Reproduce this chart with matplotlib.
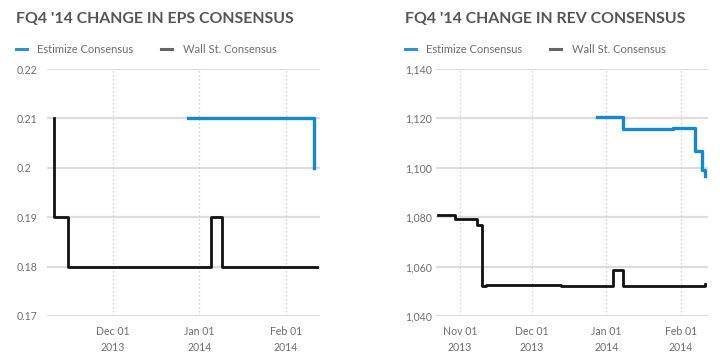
import numpy as np
import matplotlib
matplotlib.use("Agg")
import matplotlib.pyplot as plt
import matplotlib.dates as mdates
from matplotlib.lines import Line2D
from matplotlib.ticker import FixedLocator

plt.rcParams['font.family'] = ['Lato', 'DejaVu Sans']

# ---------------- data ----------------
eps_est_dates = np.array(['2013-12-28', '2014-02-11', '2014-02-11'], dtype='datetime64[D]')
eps_est_vals = [0.21, 0.20, 0.20]
eps_ws_dates = np.array(['2013-11-10', '2013-11-10', '2013-11-15', '2014-01-05',
                         '2014-01-09', '2014-02-12'], dtype='datetime64[D]')
eps_ws_vals = [0.21, 0.19, 0.18, 0.19, 0.18, 0.18]

rev_est_dates = np.array(['2013-12-28', '2014-01-08', '2014-01-29', '2014-02-07',
                          '2014-02-10', '2014-02-10', '2014-02-11', '2014-02-11'],
                         dtype='datetime64[h]')
rev_est_vals = [1120.6, 1115.7, 1116.0, 1106.8, 1102.5, 1099.0, 1096.7, 1096.7]
rev_ws_dates = np.array(['2013-10-23', '2013-10-30', '2013-11-08', '2013-11-10',
                         '2013-11-12', '2013-12-13', '2014-01-04', '2014-01-08',
                         '2014-02-11', '2014-02-11'], dtype='datetime64[D]')
rev_ws_vals = [1080.8, 1079.3, 1077.0, 1052.1, 1052.5, 1052.2, 1058.6, 1052.2, 1052.2, 1053.0]

eps_yticks = [0.17, 0.18, 0.19, 0.20, 0.21, 0.22]
eps_ylabels = ['0.17', '0.18', '0.19', '0.2', '0.21', '0.22']
rev_yticks = [1040, 1060, 1080, 1100, 1120, 1140]
rev_ylabels = ['1,040', '1,060', '1,080', '1,100', '1,120', '1,140']

eps_xticks = np.array(['2013-12-01', '2014-01-01', '2014-02-01'], dtype='datetime64[D]')
eps_xlabels = ['Dec 01\n2013', 'Jan 01\n2014', 'Feb 01\n2014']
rev_xticks = np.array(['2013-11-01', '2013-12-01', '2014-01-01', '2014-02-01'], dtype='datetime64[D]')
rev_xlabels = ['Nov 01\n2013', 'Dec 01\n2013', 'Jan 01\n2014', 'Feb 01\n2014']

titles = ["FQ4 '14 CHANGE IN EPS CONSENSUS", "FQ4 '14 CHANGE IN REV CONSENSUS"]
legend_labels = ['Estimize Consensus', 'Wall St. Consensus']

BLUE = '#1589cf'
BLACK = '#111111'
TITLE_C = '#555555'
TXT_C = '#6e6e6e'
GRID_C = '#dddddd'

W, H = 720, 359
fig = plt.figure(figsize=(W / 100, H / 100), dpi=100)


def fx(px):
    return px / W


def fy(py):
    return 1 - py / H


def setup(ax, xlim, ylim, yticks, ylabels, xticks, xlabels, lab_pad_px):
    ax.set_xlim(*xlim)
    ax.set_ylim(*ylim)
    for s in ax.spines.values():
        s.set_visible(False)
    ax.yaxis.set_major_locator(FixedLocator(yticks))
    ax.set_yticklabels(ylabels)
    ax.set_xticks(mdates.date2num(xticks))
    ax.set_xticklabels(xlabels, linespacing=1.5)
    ax.tick_params(axis='both', length=0, labelsize=7.6, colors=TXT_C)
    ax.tick_params(axis='y', pad=lab_pad_px * 72 / 100)
    ax.tick_params(axis='x', pad=7.5)
    for lab in ax.get_yticklabels():
        lab.set_ha('left')
    for y in yticks:
        ax.axhline(y, color=GRID_C, lw=1.6, zorder=0)
    for x in xticks:
        ax.axvline(mdates.date2num(x), color='#c8c8c8', lw=0.9, ls=(0, (1, 2.2)), zorder=0)


# EPS chart
ax1 = fig.add_axes([fx(47), fy(316), fx(319.5) - fx(47), fy(69) - fy(316)])
d0 = mdates.date2num(np.datetime64('2013-12-01'))
d1 = mdates.date2num(np.datetime64('2014-02-01'))
setup(ax1, (d0 - 23.4, d1 + 11.9), (0.17, 0.22), eps_yticks, eps_ylabels,
      eps_xticks, eps_xlabels, 30)
ax1.plot(mdates.date2num(eps_ws_dates), eps_ws_vals, drawstyle='steps-post',
         color=BLACK, lw=2.0, zorder=3)
ax1.plot(mdates.date2num(eps_est_dates), eps_est_vals, drawstyle='steps-post',
         color=BLUE, lw=2.4, zorder=4)

# REV chart
ax2 = fig.add_axes([fx(436), fy(316), fx(708) - fx(436), fy(69) - fy(316)])
r0 = mdates.date2num(np.datetime64('2013-11-01'))
r1 = mdates.date2num(np.datetime64('2014-02-01'))
setup(ax2, (r0 - 10.0, r1 + 11.4), (1040, 1140), rev_yticks, rev_ylabels,
      rev_xticks, rev_xlabels, 31)
ax2.plot(mdates.date2num(rev_ws_dates.astype('datetime64[h]')), rev_ws_vals,
         drawstyle='steps-post', color=BLACK, lw=2.0, zorder=3)
ax2.plot(mdates.date2num(rev_est_dates), rev_est_vals, drawstyle='steps-post',
         color=BLUE, lw=2.4, zorder=4)

# titles and legends
for x0, title in zip([16, 405], titles):
    fig.text(fx(x0), fy(19), title, fontsize=11.4, fontweight='bold',
             color=TITLE_C, va='center', ha='left')
    # legend
    fig.add_artist(Line2D([fx(x0), fx(x0 + 11)], [fy(49), fy(49)],
                          color='#2a93d5', lw=2.2))
    fig.text(fx(x0 + 21), fy(49.5), legend_labels[0], fontsize=8.0, color=TXT_C,
             va='center', ha='left')
    fig.add_artist(Line2D([fx(x0 + 145), fx(x0 + 156)], [fy(49), fy(49)],
                          color='#666666', lw=2.2))
    fig.text(fx(x0 + 167), fy(49.5), legend_labels[1], fontsize=8.0, color=TXT_C,
             va='center', ha='left')

fig.savefig('out.png', dpi=100)
